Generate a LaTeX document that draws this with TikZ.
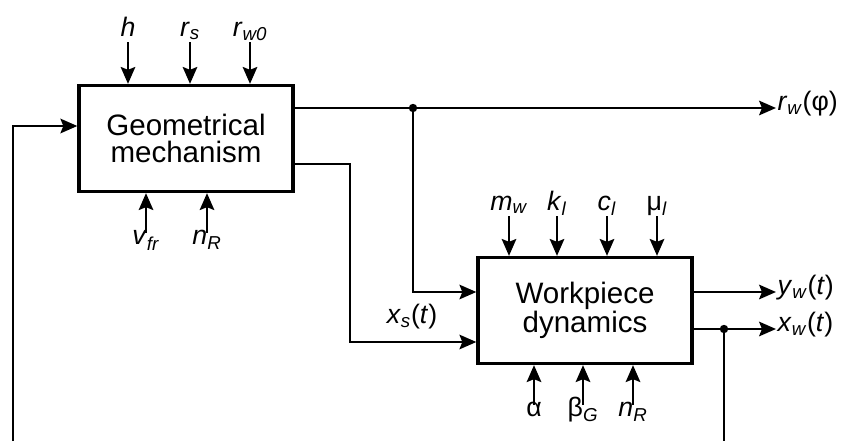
\documentclass[tikz,border=0pt]{standalone}
\usepackage{fontspec}
\setmainfont{Liberation Sans}
\usetikzlibrary{arrows.meta}

\newcommand{\iv}[2]{\textit{#1}\textsubscript{\textit{#2}}}

\tikzset{
  blk/.style={draw, line width=2.3pt, minimum width=5.35cm, minimum height=2.65cm,
    align=center, inner sep=0pt, font=\fontsize{21}{19.5}\selectfont},
  lbl/.style={inner sep=1pt, font=\fontsize{19}{19}\selectfont, text height=0.72em, text depth=0.3em},
  arr/.style={line width=2pt, -{Stealth[length=4.2mm,width=3.6mm,inset=0.7mm]}},
  ln/.style={line width=2pt},
  dot/.style={circle, fill, inner sep=0pt, minimum size=2.1mm},
}

\begin{document}
\begin{tikzpicture}[x=0.025cm,y=-0.025cm]
  \useasboundingbox (0,0) rectangle (846,441);

  \node[blk] (geo) at (186,138.5) {Geometrical\\mechanism};
  \node[blk] (work) at (585,310.5) {Workpiece\\dynamics};

  % geometrical mechanism inputs
  \node[lbl,anchor=south] (h) at (128,42) {\textit{h}};
  \node[lbl,anchor=south] (rs) at (190,42) {\iv{r}{s}};
  \node[lbl,anchor=south] (rw0) at (250,42) {\iv{r}{w0}};
  \node[lbl,anchor=north] (vfr) at (146,233) {\iv{v}{fr}};
  \node[lbl,anchor=north] (nR1) at (207,233) {\iv{n}{R}};
  \foreach \n in {h,rs,rw0}
    \draw[arr] (\n.south) -- (\n.south |- geo.north);
  \foreach \n in {vfr,nR1}
    \draw[arr] (\n.north) -- (\n.north |- geo.south);

  % workpiece dynamics inputs
  \node[lbl,anchor=south] (mw) at (509,216) {\iv{m}{w}};
  \node[lbl,anchor=south] (kl) at (557,216) {\iv{k}{l}};
  \node[lbl,anchor=south] (cl) at (607,216) {\iv{c}{l}};
  \node[lbl,anchor=south] (mul) at (657,216) {μ\textsubscript{\textit{l}}};
  \node[lbl,anchor=north] (al) at (534,405) {α};
  \node[lbl,anchor=north] (bG) at (583,405) {β\textsubscript{\textit{G}}};
  \node[lbl,anchor=north] (nR2) at (633,405) {\iv{n}{R}};
  \foreach \n in {mw,kl,cl,mul}
    \draw[arr] (\n.south) -- (\n.south |- work.north);
  \foreach \n in {al,bG,nR2}
    \draw[arr] (\n.north) -- (\n.north |- work.south);

  % outputs
  \node[lbl,anchor=west] (rw) at (776,108) {\iv{r}{w}(φ)};
  \node[lbl,anchor=west] (yw) at (776,292) {\iv{y}{w}(\textit{t})};
  \node[lbl,anchor=west] (xw) at (776,329) {\iv{x}{w}(\textit{t})};
  \node[lbl] (xs) at (412,321) {\iv{x}{s}(\textit{t})};

  \coordinate (j1) at (413,108);
  \coordinate (b1) at (350,164);
  \coordinate (b2) at (350,342);
  \coordinate (j2) at (724,329);
  \coordinate (fb0) at (13,441);
  \coordinate (fb1) at (13,126);
  \coordinate (fb2) at (724,441);

  \draw[arr] (geo.east |- j1) -- (rw.west);
  \draw[arr] (j1) |- (work.west |- yw.west);
  \draw[arr] (geo.east |- b1) -- (b1) -- (b2) -- (work.west |- b2);
  \draw[arr] (work.east |- yw.west) -- (yw.west);
  \draw[arr] (work.east |- xw.west) -- (xw.west);
  \draw[ln] (j2) -- (fb2);
  \draw[arr] (fb0) -- (fb1) -- (geo.west |- fb1);
  \node[dot] at (j1) {};
  \node[dot] at (j2) {};
\end{tikzpicture}
\end{document}
